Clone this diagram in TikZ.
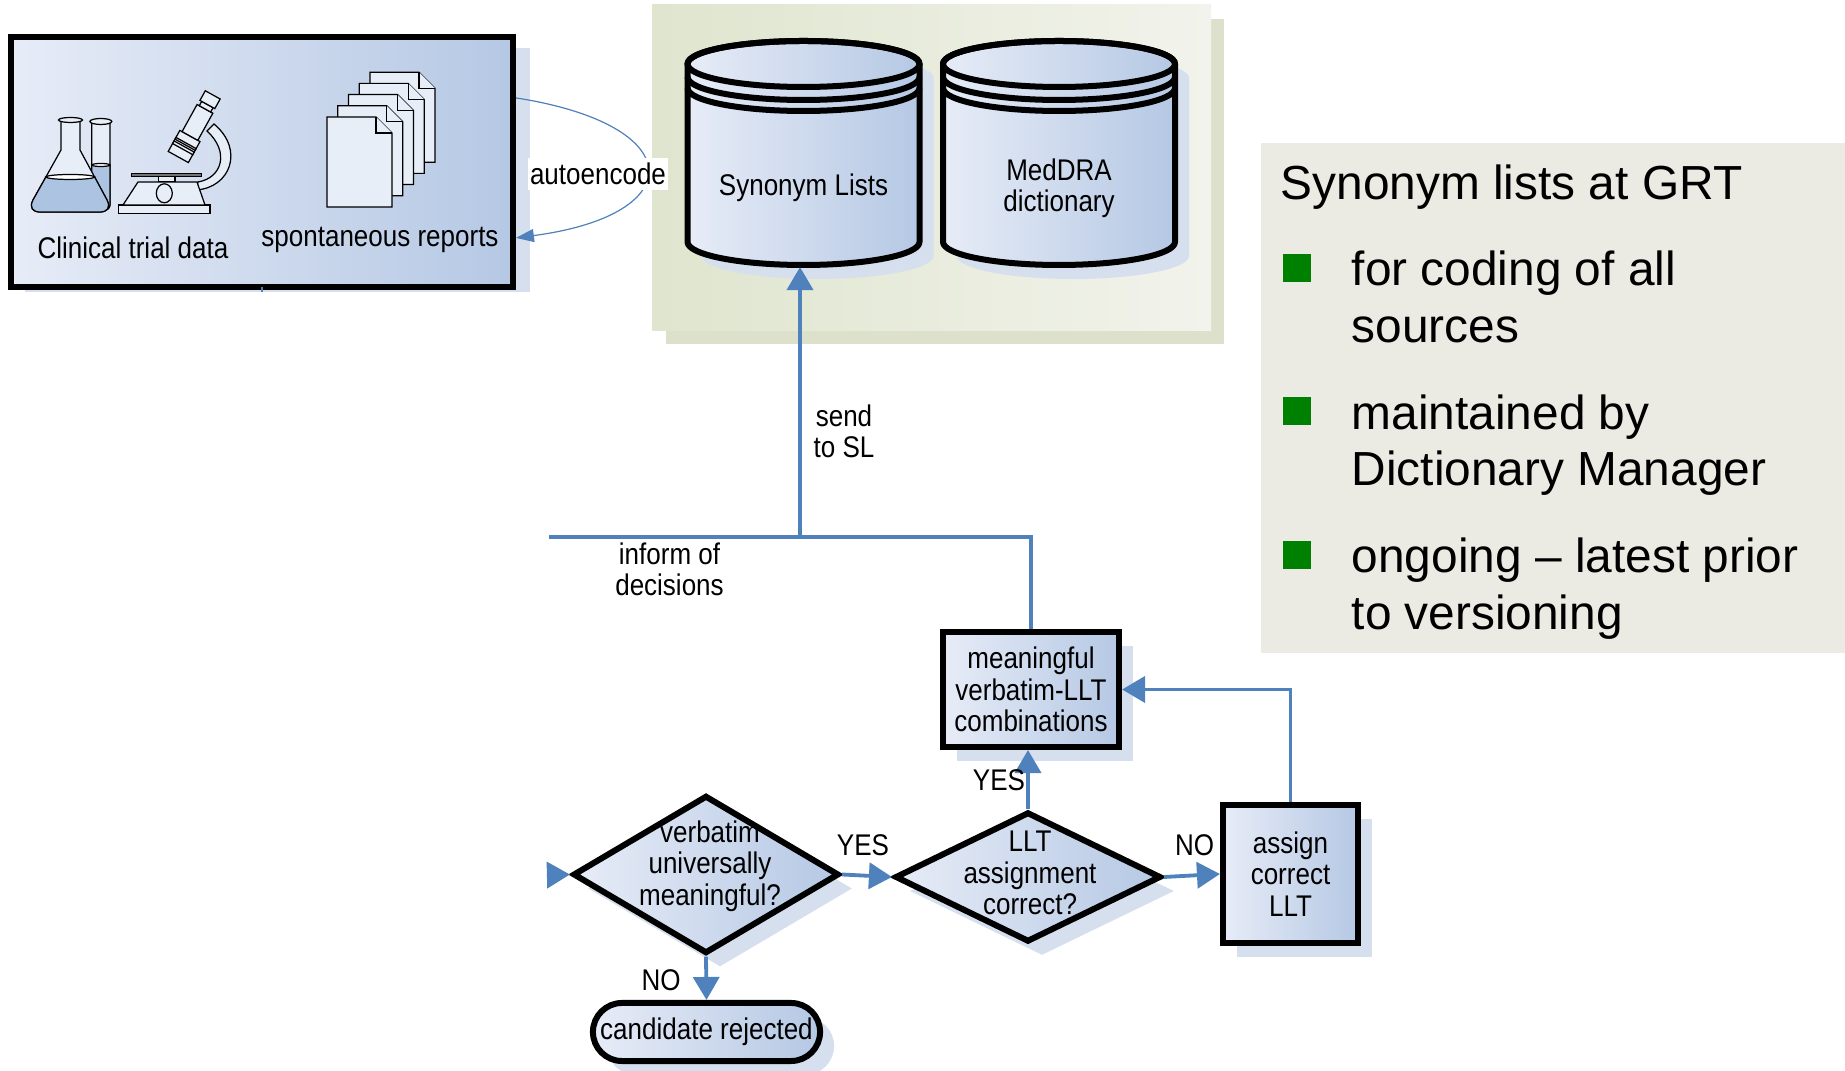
\documentclass[tikz,border=0pt]{standalone}
\usepackage{fontspec}
\setmainfont{Liberation Sans}
\newfontfamily\narrowsf{Liberation Sans}[FakeStretch=0.87]
\usetikzlibrary{arrows.meta,shapes.geometric,shadows,calc}
\definecolor{flowblue}{RGB}{79,129,189}
\definecolor{boxlight}{RGB}{231,236,247}
\definecolor{boxdark}{RGB}{181,200,228}
\definecolor{shadowblue}{RGB}{214,223,238}
\definecolor{panelA}{RGB}{223,229,206}
\definecolor{panelB}{RGB}{242,243,236}
\definecolor{panelshadow}{RGB}{221,225,203}
\definecolor{notepanel}{RGB}{235,235,228}
\definecolor{bulletgreen}{RGB}{0,128,0}
\definecolor{liquid}{RGB}{172,196,226}
\definecolor{paper}{RGB}{232,238,248}
\tikzset{
    smalltxt/.style={font=\narrowsf\fontsize{8.5}{8.9}\selectfont, align=center, inner sep=0pt},
    bigtxt/.style={font=\fontsize{13.6}{16.2}\selectfont, inner sep=0pt, anchor=base west},
    thickline/.style={draw=black, line width=0.06cm},
    boxshade/.style={left color=boxlight, right color=boxdark},
    shadowed/.style={drop shadow={shadow xshift=0.14cm, shadow yshift=-0.14cm, fill=shadowblue, opacity=1}},
    procbox/.style={rectangle, thickline, boxshade, shadowed, smalltxt},
    decision/.style={diamond, thickline, boxshade, shadowed, inner sep=0pt},
    terminal/.style={rectangle, rounded corners=0.29cm, thickline, boxshade, shadowed, smalltxt},
    srcbox/.style={rectangle, thickline, boxshade, inner sep=0pt, minimum width=5.02cm, minimum height=2.50cm},
    cylslot/.style={inner sep=0pt, outer sep=0pt, minimum width=2.38cm, minimum height=2.26cm},
    flow/.style={draw=flowblue, line width=0.038cm},
    flowarrow/.style={flow, -{Triangle[length=0.23cm, width=0.26cm]}},
    aeline/.style={draw=flowblue, line width=0.012cm, -{Triangle[length=0.18cm, width=0.13cm]}},
    icon/.style={draw=black, line width=0.35pt, fill=paper}
}

\begin{document}
\begin{tikzpicture}[x=0.01cm, y=-0.01cm]
            \useasboundingbox (0,0) rectangle (1845,1071);
            \fill[white] (0,0) rectangle (1845,1071);
            \fill[panelshadow] (666,19) rectangle (1224,344);
            \shade[left color=panelA, right color=panelB] (652,5) rectangle (1211,331);
            \fill[notepanel] (1261,143.5) rectangle (1845,653);
            \fill[shadowblue] (25,48) rectangle (530,292);
            \node[srcbox] (src) at (261.8,162) {};
            \draw[flowblue, line width=0.025cm] ($(src.south)+(0,-3)$) -- ++(0,5);
            \draw[icon] (91.7,122) -- (91.7,205) .. controls (91.7,213) and (110,213) .. (110,205) -- (110,122);
            \filldraw[fill=liquid, draw=black, line width=0.35pt] (91.7,165) -- (91.7,205) .. controls (91.7,213) and (110,213) .. (110,205) -- (110,165) -- cycle;
            \filldraw[fill=white, draw=black, line width=0.35pt] (100.85,165) ellipse[x radius=9.15, y radius=1.5];
            \draw[icon] (100.85,121.5) ellipse[x radius=11, y radius=3];
            \draw[icon] (61,120) -- (61,150) -- (33,200) .. controls (29,208) and (33,212) .. (40,212) -- (100,212) .. controls (107,212) and (111,208) .. (107,200) -- (80,150) -- (80,120);
            \filldraw[fill=liquid, draw=black, line width=0.35pt] (45.9,177) -- (33,200) .. controls (29,208) and (33,212) .. (40,212) -- (100,212) .. controls (107,212) and (111,208) .. (107,200) -- (94.6,177) -- cycle;
            \filldraw[fill=white, draw=black, line width=0.35pt] (70.25,177) ellipse[x radius=24.35, y radius=2.5];
            \draw[icon] (70.5,120) ellipse[x radius=12, y radius=2.5];
            \filldraw[icon] (196,190) .. controls (230,188) and (245,150) .. (214,124) -- (207,131) .. controls (230,152) and (222,178) .. (198,182) -- cycle;
            \begin{scope}[shift={(178.3,157)}, rotate=61]
                \filldraw[icon] (0,-11.5) rectangle (24,11.5);
                \filldraw[icon] (9,-11.5) rectangle (12,11.5);
                \filldraw[icon] (14,-11.5) rectangle (16,11.5);
                \filldraw[icon] (24,-9) rectangle (55,9);
                \filldraw[icon] (55,-6.5) rectangle (60,6.5);
                \filldraw[icon] (60,-8.5) rectangle (71,8.5);
            \end{scope}
            \filldraw[icon] (118.3,205) rectangle (210,213.3);
            \filldraw[icon] (123,205) -- (138,182) -- (197,182) -- (205,205) -- cycle;
            \filldraw[fill=black!55, draw=black, line width=0.35pt] (131.7,173.3) rectangle (201.7,176.7);
            \filldraw[icon] (158.3,176.7) rectangle (175,181.7);
            \draw[icon] (164.3,193.3) ellipse[x radius=8, y radius=9.5];
            \foreach \i in {4,...,0} {
                \filldraw[icon] ({327+10.75*\i},{117-11.2*\i}) -- ++(49,0) -- ++(16,16) -- ++(0,74) -- ++(-65,0) -- cycle;
                \draw[icon] ({376+10.75*\i},{117-11.2*\i}) -- ++(0,16) -- ++(16,0);
            }
            \node[smalltxt] (ctdtxt) at (133,248) {Clinical trial data};
            \node[smalltxt] (sprtxt) at (380,240) {spontaneous reports};
            \foreach \cx in {803.5,1059} {
                \fill[shadowblue] ({\cx-102},78) -- ({\cx-102},256) arc[start angle=180, end angle=0, x radius=116, y radius=23] -- ({\cx+130},78) arc[start angle=0, end angle=-180, x radius=116, y radius=23] -- cycle;
                \shadedraw[boxshade, thickline, line join=round] ({\cx-116},64) -- ({\cx-116},242) arc[start angle=180, end angle=0, x radius=116, y radius=23] -- ({\cx+116},64) arc[start angle=0, end angle=-180, x radius=116, y radius=23] -- cycle;
                \draw[thickline] (\cx,64) ellipse[x radius=116, y radius=23];
                \draw[thickline] ({\cx-116},77) arc[start angle=180, end angle=0, x radius=116, y radius=23];
                \draw[thickline] ({\cx-116},88) arc[start angle=180, end angle=0, x radius=116, y radius=23];
            }
            \node[cylslot] (sl) at (803.5,154) {};
            \node[cylslot] (med) at (1059,154) {};
            \node[smalltxt] (sltxt) at (803.5,188) {Synonym Lists};
            \node[smalltxt] (medtxt) at (1059,188.5) {MedDRA\\dictionary};
            \draw[aeline] ($(src.north east)+(0,64)$) .. controls (690,125) and (690,215) .. ($(src.north east)+(0,204)$);
            \node[smalltxt, fill=white, inner xsep=0.5pt, inner ysep=1.5pt] (aetxt) at (598,174) {autoencode};
            \node[bigtxt] (title) at (1280,200) {Synonym lists at GRT};
            \fill[bulletgreen] (1283,254) rectangle ++(28,28);
            \fill[bulletgreen] (1283,397.5) rectangle ++(28,28);
            \fill[bulletgreen] (1283,541) rectangle ++(28,28);
            \node[bigtxt] (b1a) at (1351,286) {for coding of all};
            \node[bigtxt] (b1b) at (1351,342.5) {sources};
            \node[bigtxt] (b2a) at (1351,429.5) {maintained by};
            \node[bigtxt] (b2b) at (1351,486) {Dictionary Manager};
            \node[bigtxt] (b3a) at (1351,573) {ongoing -- latest prior};
            \node[bigtxt] (b3b) at (1351,629.5) {to versioning};
            \node[procbox, minimum width=1.76cm, minimum height=1.15cm] (mean) at (1031,689.5) {meaningful\\verbatim-LLT\\combinations};
            \node[procbox, minimum width=1.35cm, minimum height=1.38cm] (assign) at (1290.5,874) {assign\\correct\\LLT};
            \node[decision, minimum width=2.66cm, minimum height=1.58cm] (d1) at (706,874.5) {};
            \node[decision, minimum width=2.66cm, minimum height=1.30cm] (d2) at (1028,877) {};
            \node[terminal, minimum width=2.27cm, minimum height=0.58cm] (rej) at (706.5,1032) {candidate rejected};
            \node[smalltxt] (d1txt) at (710,866) {verbatim\\universally\\meaningful?};
            \node[smalltxt] (d2txt) at (1030,873) {LLT\\assignment\\correct?};
            \coordinate (junc) at (800,537);
            \coordinate (inform) at (549,537);
            \coordinate (entry) at (549,875);
            \draw[flow] (mean.north) |- (inform);
            \draw[flowarrow] (junc) -- (junc |- sl.south);
            \draw[flowarrow] (entry) -- (d1.west);
            \draw[flowarrow] (d1.east) -- (d2.west);
            \draw[flowarrow] (d1.south) -- (rej.north);
            \draw[flowarrow] (d2.north) -- (d2.north |- mean.south);
            \draw[flowarrow] (d2.east) -- (assign.west);
            \draw[flowarrow] (assign.north) |- (mean.east);
            \node[smalltxt] (sendtxt) at (844,431) {send\\to SL};
            \node[smalltxt] (informtxt) at (669.5,569) {inform of\\decisions};
            \node[smalltxt] (yes1) at (863,845) {YES};
            \node[smalltxt] (no1) at (1194.5,845) {NO};
            \node[smalltxt] (yes2) at (999,780) {YES};
            \node[smalltxt] (no2) at (661,980) {NO};
        \end{tikzpicture}
\end{document}
